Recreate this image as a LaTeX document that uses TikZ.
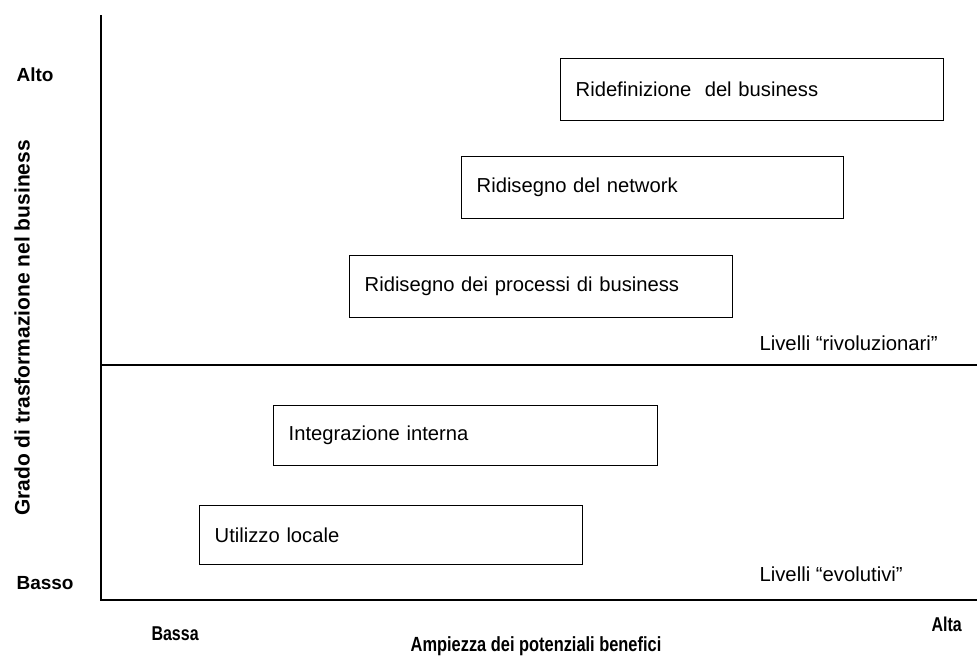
\documentclass[tikz,border=0pt]{standalone}
\usepackage{fontspec}
\setmainfont{Liberation Sans}
\newfontfamily\condfont[FakeStretch=0.8]{Liberation Sans}
\begin{document}
\begin{tikzpicture}[x=1pt,y=-1pt,
  box/.style={draw, line width=1.4pt, inner xsep=15pt, inner ysep=0pt,
    minimum width=#1pt, text width=#1pt-30pt, minimum height=62pt,
    align=left, anchor=north west, font=\fontsize{20.2}{23}\selectfont},
  axis/.style={line width=1.6pt},
  ylab/.style={font=\bfseries\fontsize{19}{21}\selectfont},
  xlab/.style={font=\condfont\bfseries\fontsize{20}{22}\selectfont},
  level/.style={anchor=west, font=\fontsize{20.3}{23}\selectfont}]
\useasboundingbox (0,0) rectangle (977,657);
% axes
\coordinate (top) at (101,15);
\coordinate (O) at (101,600);
\coordinate (xend) at (977,600);
\coordinate (ml) at (101,365);
\coordinate (mr) at (977,365);
\draw[axis] (top) -- (O) -- (xend);
\draw[line width=1.3pt] (ml) -- (mr);
% boxes
\node[box=383] (b1) at (560,58) {Ridefinizione\ \ del business};
\node[box=382] (b2) at (461,156) {Ridisegno del network};
\node[box=383] (b3) at (349,255) {Ridisegno dei processi di business};
\node[box=384,minimum height=60pt] (b4) at (273,405) {Integrazione interna};
\node[box=383,minimum height=59pt] (b5) at (199,505) {Utilizzo locale};
% level labels
\node[level] (lr) at (756,343) {Livelli “rivoluzionari”};
\node[level] (le) at (756,574) {Livelli “evolutivi”};
% axis labels
\node[ylab, anchor=west] (alto) at (13,75) {Alto};
\node[ylab, anchor=west] (basso) at (13,583) {Basso};
\node[ylab, rotate=90, font=\bfseries\fontsize{21}{23}\selectfont] (ytitle) at (22,328) {Grado di trasformazione nel business};
\node[xlab, anchor=west] (bassa) at (148,634) {Bassa};
\node[xlab, anchor=west] (alta) at (928,624) {Alta};
\node[xlab, font=\condfont\bfseries\fontsize{20.5}{22}\selectfont] (xtitle) at (536,646) {Ampiezza dei potenziali benefici};
\end{tikzpicture}
\end{document}
